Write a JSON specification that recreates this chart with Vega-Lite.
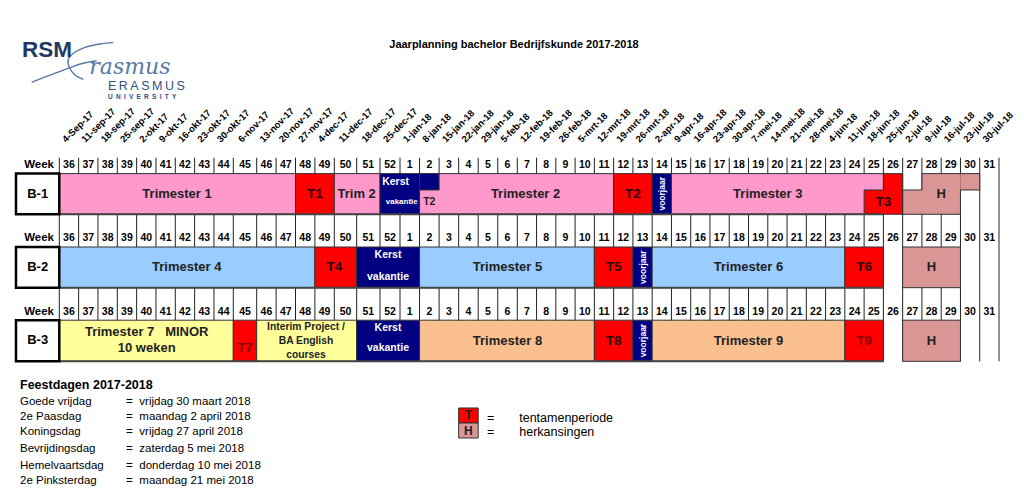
{
  "$schema": "https://vega.github.io/schema/vega-lite/v6.json",
  "width": 1024,
  "height": 490,
  "padding": 0,
  "autosize": "none",
  "background": "#ffffff",
  "config": {"view": {"stroke": null}, "axis": {"disable": true}, "text": {"font": "Liberation Sans"}},
  "datasets": {
    "edges": [{"b":0},{"b":1},{"b":2},{"b":3},{"b":4},{"b":5},{"b":6},{"b":7},{"b":8},{"b":9},{"b":10},{"b":11},{"b":12},{"b":13},{"b":14},{"b":15},{"b":16},{"b":17},{"b":18},{"b":19},{"b":20},{"b":21},{"b":22},{"b":23},{"b":24},{"b":25},{"b":26},{"b":27},{"b":28},{"b":29},{"b":30},{"b":31},{"b":32},{"b":33},{"b":34},{"b":35},{"b":36},{"b":37},{"b":38},{"b":39},{"b":40},{"b":41},{"b":42},{"b":43},{"b":44},{"b":45},{"b":46},{"b":47},{"b":48}],
    "cols": [
      {"c":0.5,"wk":36,"d":"4-Sep-17"},{"c":1.5,"wk":37,"d":"11-sep-17"},{"c":2.5,"wk":38,"d":"18-sep-17"},{"c":3.5,"wk":39,"d":"25-sep-17"},
      {"c":4.5,"wk":40,"d":"2-okt-17"},{"c":5.5,"wk":41,"d":"9-okt-17"},{"c":6.5,"wk":42,"d":"16-okt-17"},{"c":7.5,"wk":43,"d":"23-okt-17"},
      {"c":8.5,"wk":44,"d":"30-okt-17"},{"c":9.5,"wk":45,"d":"6-nov-17"},{"c":10.5,"wk":46,"d":"13-nov-17"},{"c":11.5,"wk":47,"d":"20-nov-17"},
      {"c":12.5,"wk":48,"d":"27-nov-17"},{"c":13.5,"wk":49,"d":"4-dec-17"},{"c":14.5,"wk":50,"d":"11-dec-17"},{"c":15.5,"wk":51,"d":"18-dec-17"},
      {"c":16.5,"wk":52,"d":"25-dec-17"},{"c":17.5,"wk":1,"d":"1-jan-18"},{"c":18.5,"wk":2,"d":"8-jan-18"},{"c":19.5,"wk":3,"d":"15-jan-18"},
      {"c":20.5,"wk":4,"d":"22-jan-18"},{"c":21.5,"wk":5,"d":"29-jan-18"},{"c":22.5,"wk":6,"d":"5-feb-18"},{"c":23.5,"wk":7,"d":"12-feb-18"},
      {"c":24.5,"wk":8,"d":"19-feb-18"},{"c":25.5,"wk":9,"d":"26-feb-18"},{"c":26.5,"wk":10,"d":"5-mrt-18"},{"c":27.5,"wk":11,"d":"12-mrt-18"},
      {"c":28.5,"wk":12,"d":"19-mrt-18"},{"c":29.5,"wk":13,"d":"26-mrt-18"},{"c":30.5,"wk":14,"d":"2-apr-18"},{"c":31.5,"wk":15,"d":"9-apr-18"},
      {"c":32.5,"wk":16,"d":"16-apr-18"},{"c":33.5,"wk":17,"d":"23-apr-18"},{"c":34.5,"wk":18,"d":"30-apr-18"},{"c":35.5,"wk":19,"d":"7-mei-18"},
      {"c":36.5,"wk":20,"d":"14-mei-18"},{"c":37.5,"wk":21,"d":"21-mei-18"},{"c":38.5,"wk":22,"d":"28-mei-18"},{"c":39.5,"wk":23,"d":"4-jun-18"},
      {"c":40.5,"wk":24,"d":"11-jun-18"},{"c":41.5,"wk":25,"d":"18-jun-18"},{"c":42.5,"wk":26,"d":"25-jun-18"},{"c":43.5,"wk":27,"d":"2-jul-18"},
      {"c":44.5,"wk":28,"d":"9-jul-18"},{"c":45.5,"wk":29,"d":"16-jul-18"},{"c":46.5,"wk":30,"d":"23-jul-18"},{"c":47.5,"wk":31,"d":"30-jul-18"}
    ],
    "blocks": [
      {"k":"b1","x0":0,"x1":12,"y0":0.725,"y1":1.279,"p":"w"},
      {"k":"ex","x0":12,"x1":14,"y0":0.725,"y1":1.279,"p":"w"},
      {"k":"b1","x0":14,"x1":16,"y0":0.725,"y1":1.279,"p":"w"},
      {"k":"b1","x0":18,"x1":28,"y0":0.725,"y1":1.279,"p":"w"},
      {"k":"vak","x0":16,"x1":18,"y0":0.725,"y1":1.279,"p":"w"},
      {"k":"vak","x0":18,"x1":19,"y0":0.725,"y1":0.948,"p":"w"},
      {"k":"ex","x0":28,"x1":30,"y0":0.725,"y1":1.279,"p":"w"},
      {"k":"vak","x0":30,"x1":31,"y0":0.725,"y1":1.279,"p":"w"},
      {"k":"b1","x0":31,"x1":42,"y0":0.725,"y1":1.279,"p":"w"},
      {"k":"ex","x0":42,"x1":43,"y0":0.725,"y1":1.279,"p":"p"},
      {"k":"ex","x0":41,"x1":42,"y0":0.948,"y1":1.279,"p":"p"},
      {"k":"her","x0":44,"x1":46,"y0":0.725,"y1":1.279,"p":"p"},
      {"k":"her","x0":43,"x1":44,"y0":0.948,"y1":1.279,"p":"p"},
      {"k":"her","x0":46,"x1":47,"y0":0.725,"y1":0.948,"p":"p"},
      {"k":"b2","x0":0,"x1":13,"y0":1.725,"y1":2.279,"p":"w"},
      {"k":"ex","x0":13,"x1":15,"y0":1.725,"y1":2.279,"p":"w"},
      {"k":"vak","x0":15,"x1":18,"y0":1.725,"y1":2.279,"p":"w"},
      {"k":"b2","x0":18,"x1":27,"y0":1.725,"y1":2.279,"p":"w"},
      {"k":"ex","x0":27,"x1":29,"y0":1.725,"y1":2.279,"p":"w"},
      {"k":"vak","x0":29,"x1":30,"y0":1.725,"y1":2.279,"p":"w"},
      {"k":"b2","x0":30,"x1":40,"y0":1.725,"y1":2.279,"p":"w"},
      {"k":"ex","x0":40,"x1":42,"y0":1.725,"y1":2.279,"p":"w"},
      {"k":"her","x0":43,"x1":46,"y0":1.725,"y1":2.279,"p":"w"},
      {"k":"mi","x0":0,"x1":9,"y0":2.722,"y1":3.282,"p":"w"},
      {"k":"ex","x0":9,"x1":10,"y0":2.722,"y1":3.282,"p":"w"},
      {"k":"mi","x0":10,"x1":15,"y0":2.722,"y1":3.282,"p":"w"},
      {"k":"vak","x0":15,"x1":18,"y0":2.722,"y1":3.282,"p":"w"},
      {"k":"b3","x0":18,"x1":27,"y0":2.722,"y1":3.282,"p":"w"},
      {"k":"ex","x0":27,"x1":29,"y0":2.722,"y1":3.282,"p":"w"},
      {"k":"vak","x0":29,"x1":30,"y0":2.722,"y1":3.282,"p":"w"},
      {"k":"b3","x0":30,"x1":40,"y0":2.722,"y1":3.282,"p":"w"},
      {"k":"ex","x0":40,"x1":42,"y0":2.722,"y1":3.282,"p":"w"},
      {"k":"her","x0":43,"x1":46,"y0":2.722,"y1":3.282,"p":"w"},
      {"k":"ex","x0":20,"x1":21,"y0":3.918,"y1":4.123,"p":"w"},
      {"k":"her","x0":20,"x1":21,"y0":4.123,"y1":4.327,"p":"w"}
    ],
    "outl": [
      {"id":"T3","o":1,"x":42,"y":0.725},{"id":"T3","o":2,"x":43,"y":0.725},{"id":"T3","o":3,"x":43,"y":1.279},{"id":"T3","o":4,"x":41,"y":1.279},{"id":"T3","o":5,"x":41,"y":0.948},{"id":"T3","o":6,"x":42,"y":0.948},{"id":"T3","o":7,"x":42,"y":0.725},
      {"id":"H","o":1,"x":44,"y":0.725},{"id":"H","o":2,"x":47,"y":0.725},{"id":"H","o":3,"x":47,"y":0.948},{"id":"H","o":4,"x":46,"y":0.948},{"id":"H","o":5,"x":46,"y":1.279},{"id":"H","o":6,"x":43,"y":1.279},{"id":"H","o":7,"x":43,"y":0.948},{"id":"H","o":8,"x":44,"y":0.948},{"id":"H","o":9,"x":44,"y":0.725}
    ],
    "bottoms": [
      {"x0":0,"x1":42,"y":1.279},{"x0":0,"x1":42,"y":2.279},{"x0":0,"x1":42,"y":3.282}
    ],
    "rowbox": [
      {"x0":-2.24,"x1":0,"y0":0.725,"y1":1.279},
      {"x0":-2.24,"x1":0,"y0":1.725,"y1":2.279},
      {"x0":-2.24,"x1":0,"y0":2.722,"y1":3.282}
    ],
    "logo": [
      {"id":"A","o":1,"x":-1.428,"y":-0.519},{"id":"A","o":2,"x":-0.828,"y":-0.582},{"id":"A","o":3,"x":-0.134,"y":-0.65},{"id":"A","o":4,"x":0.553,"y":-0.718},{"id":"A","o":5,"x":1.241,"y":-0.778},{"id":"A","o":6,"x":1.935,"y":-0.813},
      {"id":"B","o":1,"x":2.793,"y":-1.059},{"id":"B","o":2,"x":2.105,"y":-1.041},{"id":"B","o":3,"x":1.329,"y":-0.996},{"id":"B","o":4,"x":0.76,"y":-0.922},{"id":"B","o":5,"x":0.466,"y":-0.832},{"id":"B","o":6,"x":0.517,"y":-0.723},{"id":"B","o":7,"x":0.812,"y":-0.619},{"id":"B","o":8,"x":1.241,"y":-0.56}
    ],
    "txt": [
      {"t":"RSM","x":-1.929,"y":-0.864,"r":"rsm"},
      {"t":"E\u2009R\u2009A\u2009S\u2009M\u2009U\u2009S","x":2.519,"y":-0.414,"r":"eras"},
      {"t":"U\u2002N\u2002I\u2002V\u2002E\u2002R\u2002S\u2002I\u2002T\u2002Y","x":2.519,"y":-0.298,"r":"univ"},
      {"t":"rasmus","x":1.55,"y":-0.63,"r":"script"},
      {"t":"Jaarplanning bachelor Bedrijfskunde 2017-2018","x":22.83,"y":-1.027,"r":"title"},
      {"t":"Week","x":-0.274,"y":0.607,"r":"wk"},
      {"t":"Week","x":-0.274,"y":1.607,"r":"wk"},
      {"t":"Week","x":-0.274,"y":2.607,"r":"wk"},
      {"t":"B-1","x":-1.117,"y":1.0,"r":"row"},
      {"t":"B-2","x":-1.117,"y":2.0,"r":"row"},
      {"t":"B-3","x":-1.117,"y":2.995,"r":"row"},
      {"t":"Trimester 1","x":6.09,"y":1.0,"r":"trim"},
      {"t":"T1","x":13,"y":1.0,"r":"exam"},
      {"t":"Trim 2","x":15,"y":1.0,"r":"trim"},
      {"t":"Kerst","x":16.78,"y":0.835,"r":"kerst"},
      {"t":"vakantie","x":17.09,"y":1.116,"r":"vaks"},
      {"t":"T2","x":18.5,"y":1.116,"r":"small"},
      {"t":"Trimester 2","x":23.43,"y":1.0,"r":"trim"},
      {"t":"T2","x":29,"y":1.0,"r":"exam"},
      {"t":"voorjaar","x":30.5,"y":1.0,"r":"vj"},
      {"t":"Trimester 3","x":36,"y":1.0,"r":"trim"},
      {"t":"T3","x":42,"y":1.108,"r":"exam"},
      {"t":"H","x":45,"y":1.0,"r":"herk"},
      {"t":"Trimester 4","x":6.59,"y":2.0,"r":"trim"},
      {"t":"T4","x":14,"y":2.0,"r":"exam"},
      {"t":"Kerst","x":16.4,"y":1.834,"r":"kerst"},
      {"t":"vakantie","x":16.4,"y":2.129,"r":"kerst"},
      {"t":"Trimester 5","x":22.5,"y":2.0,"r":"trim"},
      {"t":"T5","x":28,"y":2.0,"r":"exam"},
      {"t":"voorjaar","x":29.5,"y":2.0,"r":"vj"},
      {"t":"Trimester 6","x":35,"y":2.0,"r":"trim"},
      {"t":"T6","x":41,"y":2.0,"r":"exam"},
      {"t":"H","x":44.5,"y":2.0,"r":"herk"},
      {"t":"Trimester 7\u00a0\u00a0\u00a0MINOR","x":4.52,"y":2.887,"r":"trim"},
      {"t":"10 weken","x":4.52,"y":3.105,"r":"trim"},
      {"t":"T7","x":9.5,"y":3.105,"r":"examdim"},
      {"t":"Interim Project /","x":12.54,"y":2.819,"r":"interim"},
      {"t":"BA English","x":12.54,"y":3.005,"r":"interim"},
      {"t":"courses","x":12.54,"y":3.196,"r":"interim"},
      {"t":"Kerst","x":16.4,"y":2.832,"r":"kerst"},
      {"t":"vakantie","x":16.4,"y":3.105,"r":"kerst"},
      {"t":"Trimester 8","x":22.5,"y":3.005,"r":"trim"},
      {"t":"T8","x":28,"y":3.005,"r":"exam"},
      {"t":"voorjaar","x":29.5,"y":3.0,"r":"vj"},
      {"t":"Trimester 9","x":35,"y":3.005,"r":"trim"},
      {"t":"T9","x":41,"y":3.005,"r":"examdim"},
      {"t":"H","x":44.5,"y":3.005,"r":"herk"},
      {"t":"Feestdagen 2017-2018","x":-2.033,"y":3.605,"r":"fdh"},
      {"t":"Goede vrijdag","x":-2.033,"y":3.841,"r":"fd"},
      {"t":"=","x":3.45,"y":3.841,"r":"fd"},
      {"t":"vrijdag 30 maart 2018","x":4.138,"y":3.841,"r":"fd"},
      {"t":"2e Paasdag","x":-2.033,"y":4.045,"r":"fd"},
      {"t":"=","x":3.45,"y":4.045,"r":"fd"},
      {"t":"maandag 2 april 2018","x":4.138,"y":4.045,"r":"fd"},
      {"t":"Koningsdag","x":-2.033,"y":4.249,"r":"fd"},
      {"t":"=","x":3.45,"y":4.249,"r":"fd"},
      {"t":"vrijdag 27 april 2018","x":4.138,"y":4.249,"r":"fd"},
      {"t":"Bevrijdingsdag","x":-2.033,"y":4.477,"r":"fd"},
      {"t":"=","x":3.45,"y":4.477,"r":"fd"},
      {"t":"zaterdag 5 mei 2018","x":4.138,"y":4.477,"r":"fd"},
      {"t":"Hemelvaartsdag","x":-2.033,"y":4.704,"r":"fd"},
      {"t":"=","x":3.45,"y":4.704,"r":"fd"},
      {"t":"donderdag 10 mei 2018","x":4.138,"y":4.704,"r":"fd"},
      {"t":"2e Pinksterdag","x":-2.033,"y":4.908,"r":"fd"},
      {"t":"=","x":3.45,"y":4.908,"r":"fd"},
      {"t":"maandag 21 mei 2018","x":4.138,"y":4.908,"r":"fd"},
      {"t":"T","x":20.5,"y":4.02,"r":"legbox"},
      {"t":"H","x":20.5,"y":4.225,"r":"legbox"},
      {"t":"=","x":21.45,"y":4.05,"r":"leg"},
      {"t":"=","x":21.45,"y":4.241,"r":"leg"},
      {"t":"tentamenperiode","x":23.1,"y":4.05,"r":"leg"},
      {"t":"herkansingen","x":23.1,"y":4.241,"r":"leg"}
    ]
  },
  "layer": [
    {
      "data": {"name": "edges"},
      "mark": {"type": "rule", "stroke": "#222222", "strokeWidth": 1},
      "encoding": {
        "x": {"field": "b", "type": "quantitative", "axis": null,
              "scale": {"domain": [0, 9, 10, 14, 15, 16, 17, 23, 48], "range": [59.3, 233.3, 256.7, 334.3, 356.7, 380, 400, 517.3, 999], "nice": false, "zero": false}},
        "y": {"datum": 0.508, "type": "quantitative", "axis": null,
              "scale": {"domain": [-1.6403, 5.0354], "reverse": true, "nice": false, "zero": false}},
        "y2": {"datum": 3.282}
      }
    },
    {
      "data": {"name": "blocks"},
      "mark": {"type": "rect", "stroke": "#333333", "strokeWidth": 1},
      "encoding": {
        "x": {"field": "x0", "type": "quantitative"},
        "x2": {"field": "x1"},
        "y": {"field": "y0", "type": "quantitative"},
        "y2": {"field": "y1"},
        "color": {"field": "k", "type": "nominal", "legend": null,
                  "scale": {"domain": ["b1", "b2", "b3", "mi", "ex", "vak", "her"], "range": ["#ff99cc", "#99ccff", "#fac090", "#ffff99", "#ff0000", "#000080", "#da9694"]}},
        "strokeOpacity": {"condition": {"test": "datum.p == 'p'", "value": 0}, "value": 1}
      }
    },
    {
      "data": {"name": "outl"},
      "mark": {"type": "line", "stroke": "#333333", "strokeWidth": 1},
      "encoding": {
        "x": {"field": "x", "type": "quantitative"},
        "y": {"field": "y", "type": "quantitative"},
        "detail": {"field": "id"},
        "order": {"field": "o"}
      }
    },
    {
      "data": {"name": "bottoms"},
      "mark": {"type": "rule", "stroke": "#444444", "strokeWidth": 2},
      "encoding": {
        "x": {"field": "x0", "type": "quantitative"},
        "x2": {"field": "x1"},
        "y": {"field": "y", "type": "quantitative"}
      }
    },
    {
      "data": {"name": "rowbox"},
      "mark": {"type": "rect", "fill": "#ffffff", "stroke": "#000000", "strokeWidth": 2.5},
      "encoding": {
        "x": {"field": "x0", "type": "quantitative"},
        "x2": {"field": "x1"},
        "y": {"field": "y0", "type": "quantitative"},
        "y2": {"field": "y1"}
      }
    },
    {
      "data": {"name": "logo"},
      "mark": {"type": "line", "stroke": "#5a78a6", "strokeWidth": 1.4, "interpolate": "cardinal"},
      "encoding": {
        "x": {"field": "x", "type": "quantitative"},
        "y": {"field": "y", "type": "quantitative"},
        "detail": {"field": "id"},
        "order": {"field": "o"}
      }
    },
    {
      "data": {"name": "cols"},
      "mark": {"type": "text", "font": "Liberation Sans", "fontWeight": "bold", "fontSize": 9.5, "color": "#000000", "angle": -45, "align": "left", "baseline": "alphabetic", "dx": -2.1, "dy": -2.1},
      "encoding": {
        "x": {"field": "c", "type": "quantitative"},
        "y": {"datum": 0.308, "type": "quantitative"},
        "text": {"field": "d"}
      }
    },
    {
      "data": {"name": "cols"},
      "mark": {"type": "text", "font": "Liberation Sans", "fontWeight": "bold", "fontSize": 10.5, "color": "#000000", "align": "center", "baseline": "middle"},
      "encoding": {"x": {"field": "c", "type": "quantitative"}, "y": {"datum": 0.607, "type": "quantitative"}, "text": {"field": "wk"}}
    },
    {
      "data": {"name": "cols"},
      "mark": {"type": "text", "font": "Liberation Sans", "fontWeight": "bold", "fontSize": 10.5, "color": "#000000", "align": "center", "baseline": "middle"},
      "encoding": {"x": {"field": "c", "type": "quantitative"}, "y": {"datum": 1.607, "type": "quantitative"}, "text": {"field": "wk"}}
    },
    {
      "data": {"name": "cols"},
      "mark": {"type": "text", "font": "Liberation Sans", "fontWeight": "bold", "fontSize": 10.5, "color": "#000000", "align": "center", "baseline": "middle"},
      "encoding": {"x": {"field": "c", "type": "quantitative"}, "y": {"datum": 2.607, "type": "quantitative"}, "text": {"field": "wk"}}
    },
    {
      "data": {"name": "txt"}, "transform": [{"filter": "datum.r == 'rsm'"}],
      "mark": {"type": "text", "font": "Liberation Sans", "fontWeight": "bold", "fontSize": 22.5, "color": "#1f3864", "align": "left", "baseline": "alphabetic"},
      "encoding": {"x": {"field": "x", "type": "quantitative"}, "y": {"field": "y", "type": "quantitative"}, "text": {"field": "t"}}
    },
    {
      "data": {"name": "txt"}, "transform": [{"filter": "datum.r == 'eras'"}],
      "mark": {"type": "text", "font": "Liberation Sans", "fontSize": 12.5, "color": "#2f4f7f", "align": "left", "baseline": "alphabetic"},
      "encoding": {"x": {"field": "x", "type": "quantitative"}, "y": {"field": "y", "type": "quantitative"}, "text": {"field": "t"}}
    },
    {
      "data": {"name": "txt"}, "transform": [{"filter": "datum.r == 'univ'"}],
      "mark": {"type": "text", "font": "Liberation Sans", "fontWeight": "bold", "fontSize": 6.5, "color": "#2f4f7f", "align": "left", "baseline": "alphabetic"},
      "encoding": {"x": {"field": "x", "type": "quantitative"}, "y": {"field": "y", "type": "quantitative"}, "text": {"field": "t"}}
    },
    {
      "data": {"name": "txt"}, "transform": [{"filter": "datum.r == 'script'"}],
      "mark": {"type": "text", "font": "DejaVu Serif", "fontStyle": "italic", "fontSize": 22, "color": "#5a78a6", "align": "left", "baseline": "alphabetic"},
      "encoding": {"x": {"field": "x", "type": "quantitative"}, "y": {"field": "y", "type": "quantitative"}, "text": {"field": "t"}}
    },
    {
      "data": {"name": "txt"}, "transform": [{"filter": "datum.r == 'title'"}],
      "mark": {"type": "text", "font": "Liberation Sans", "fontWeight": "bold", "fontSize": 11, "color": "#000000", "align": "center", "baseline": "middle"},
      "encoding": {"x": {"field": "x", "type": "quantitative"}, "y": {"field": "y", "type": "quantitative"}, "text": {"field": "t"}}
    },
    {
      "data": {"name": "txt"}, "transform": [{"filter": "datum.r == 'wk'"}],
      "mark": {"type": "text", "font": "Liberation Sans", "fontWeight": "bold", "fontSize": 11.5, "color": "#000000", "align": "right", "baseline": "middle"},
      "encoding": {"x": {"field": "x", "type": "quantitative"}, "y": {"field": "y", "type": "quantitative"}, "text": {"field": "t"}}
    },
    {
      "data": {"name": "txt"}, "transform": [{"filter": "datum.r == 'row'"}],
      "mark": {"type": "text", "font": "Liberation Sans", "fontWeight": "bold", "fontSize": 13, "color": "#000000", "align": "center", "baseline": "middle"},
      "encoding": {"x": {"field": "x", "type": "quantitative"}, "y": {"field": "y", "type": "quantitative"}, "text": {"field": "t"}}
    },
    {
      "data": {"name": "txt"}, "transform": [{"filter": "datum.r == 'trim'"}],
      "mark": {"type": "text", "font": "Liberation Sans", "fontWeight": "bold", "fontSize": 13, "color": "#222222", "align": "center", "baseline": "middle"},
      "encoding": {"x": {"field": "x", "type": "quantitative"}, "y": {"field": "y", "type": "quantitative"}, "text": {"field": "t"}}
    },
    {
      "data": {"name": "txt"}, "transform": [{"filter": "datum.r == 'exam'"}],
      "mark": {"type": "text", "font": "Liberation Sans", "fontWeight": "bold", "fontSize": 13.5, "color": "#2a0000", "align": "center", "baseline": "middle"},
      "encoding": {"x": {"field": "x", "type": "quantitative"}, "y": {"field": "y", "type": "quantitative"}, "text": {"field": "t"}}
    },
    {
      "data": {"name": "txt"}, "transform": [{"filter": "datum.r == 'examdim'"}],
      "mark": {"type": "text", "font": "Liberation Sans", "fontWeight": "bold", "fontSize": 13.5, "color": "#8b0000", "align": "center", "baseline": "middle"},
      "encoding": {"x": {"field": "x", "type": "quantitative"}, "y": {"field": "y", "type": "quantitative"}, "text": {"field": "t"}}
    },
    {
      "data": {"name": "txt"}, "transform": [{"filter": "datum.r == 'herk'"}],
      "mark": {"type": "text", "font": "Liberation Sans", "fontWeight": "bold", "fontSize": 13, "color": "#222222", "align": "center", "baseline": "middle"},
      "encoding": {"x": {"field": "x", "type": "quantitative"}, "y": {"field": "y", "type": "quantitative"}, "text": {"field": "t"}}
    },
    {
      "data": {"name": "txt"}, "transform": [{"filter": "datum.r == 'kerst'"}],
      "mark": {"type": "text", "font": "Liberation Sans", "fontWeight": "bold", "fontSize": 10.5, "color": "#ffffff", "align": "center", "baseline": "middle"},
      "encoding": {"x": {"field": "x", "type": "quantitative"}, "y": {"field": "y", "type": "quantitative"}, "text": {"field": "t"}}
    },
    {
      "data": {"name": "txt"}, "transform": [{"filter": "datum.r == 'vaks'"}],
      "mark": {"type": "text", "font": "Liberation Sans", "fontWeight": "bold", "fontSize": 8, "color": "#ffffff", "align": "center", "baseline": "middle"},
      "encoding": {"x": {"field": "x", "type": "quantitative"}, "y": {"field": "y", "type": "quantitative"}, "text": {"field": "t"}}
    },
    {
      "data": {"name": "txt"}, "transform": [{"filter": "datum.r == 'vj'"}],
      "mark": {"type": "text", "font": "Liberation Sans", "fontWeight": "bold", "fontSize": 8.5, "color": "#ffffff", "align": "center", "baseline": "middle", "angle": 270},
      "encoding": {"x": {"field": "x", "type": "quantitative"}, "y": {"field": "y", "type": "quantitative"}, "text": {"field": "t"}}
    },
    {
      "data": {"name": "txt"}, "transform": [{"filter": "datum.r == 'interim'"}],
      "mark": {"type": "text", "font": "Liberation Sans", "fontWeight": "bold", "fontSize": 10.3, "color": "#222222", "align": "center", "baseline": "middle"},
      "encoding": {"x": {"field": "x", "type": "quantitative"}, "y": {"field": "y", "type": "quantitative"}, "text": {"field": "t"}}
    },
    {
      "data": {"name": "txt"}, "transform": [{"filter": "datum.r == 'small'"}],
      "mark": {"type": "text", "font": "Liberation Sans", "fontWeight": "bold", "fontSize": 10.5, "color": "#222222", "align": "center", "baseline": "middle"},
      "encoding": {"x": {"field": "x", "type": "quantitative"}, "y": {"field": "y", "type": "quantitative"}, "text": {"field": "t"}}
    },
    {
      "data": {"name": "txt"}, "transform": [{"filter": "datum.r == 'fdh'"}],
      "mark": {"type": "text", "font": "Liberation Sans", "fontWeight": "bold", "fontSize": 12.5, "color": "#000000", "align": "left", "baseline": "middle"},
      "encoding": {"x": {"field": "x", "type": "quantitative"}, "y": {"field": "y", "type": "quantitative"}, "text": {"field": "t"}}
    },
    {
      "data": {"name": "txt"}, "transform": [{"filter": "datum.r == 'fd'"}],
      "mark": {"type": "text", "font": "Liberation Sans", "fontSize": 11.5, "color": "#000000", "align": "left", "baseline": "middle"},
      "encoding": {"x": {"field": "x", "type": "quantitative"}, "y": {"field": "y", "type": "quantitative"}, "text": {"field": "t"}}
    },
    {
      "data": {"name": "txt"}, "transform": [{"filter": "datum.r == 'leg'"}],
      "mark": {"type": "text", "font": "Liberation Sans", "fontSize": 12.5, "color": "#000000", "align": "left", "baseline": "middle"},
      "encoding": {"x": {"field": "x", "type": "quantitative"}, "y": {"field": "y", "type": "quantitative"}, "text": {"field": "t"}}
    },
    {
      "data": {"name": "txt"}, "transform": [{"filter": "datum.r == 'legbox'"}],
      "mark": {"type": "text", "font": "Liberation Sans", "fontWeight": "bold", "fontSize": 12, "color": "#222222", "align": "center", "baseline": "middle"},
      "encoding": {"x": {"field": "x", "type": "quantitative"}, "y": {"field": "y", "type": "quantitative"}, "text": {"field": "t"}}
    }
  ]
}
